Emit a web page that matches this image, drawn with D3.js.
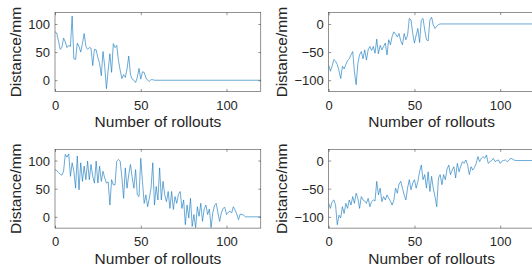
<!DOCTYPE html>
<meta charset="utf-8">
<style>
body { margin: 0; background: #fff; }
text { font-family: "Liberation Sans", Arial, sans-serif; fill: #262626; }
.tick text { font-size: 13px; }
.label { font-size: 15.5px; }
.box { fill: none; stroke: #262626; stroke-width: 0.5px; }
.trace { fill: none; stroke: #1a7cc0; stroke-width: 0.65px; }
</style>
<body>
<script src="https://d3js.org/d3.v7.min.js"></script>
<script>

// distance per rollout (index = rollout number)
var topLeft = [86, 84, 70, 55, 58, 75, 68, 58, 62, 60,
  114, 38, 37, 66, 60, 50, 65, 83, 60, 55,
  58, 57, 26, 55, 54, 40, 30, 8, 51, 24,
  -15, 18, 47, 14, 65, 58, 62, 35, 18, 3,
  10, 5, 20, 43, 10, 2, 0, -4, 5, 21,
  2, 15, 14, 4, 0, -2, 1, 1, 0];

var topRight = [-73, -84, -75, -63, -66, -72, -83, -97, -75, -80,
  -72, -65, -62, -55, -49, -85, -108, -70, -55, -49,
  -62, -46, -64, -46, -40, -47, -40, -52, -27, -53,
  -38, -46, -40, -34, -55, -28, -37, -22, -14, -18,
  -23, -17, -30, -37, -17, -28, -20, 10, 7, -17,
  -34, -20, -8, -33, 7, 10, -11, -28, -30, 7,
  12, -2, -8, -4, -1, 0];

var bottomLeft = [84, 82, 79, 76, 74, 81, 111, 106, 112, 72,
  96, 81, 51, 108, 48, 96, 63, 90, 66, 99,
  66, 93, 72, 60, 99, 60, 90, 63, 81, 69,
  60, 62, 21, 66, 57, 57, 99, 102, 99, 70,
  33, 87, 51, 75, 93, 70, 51, 84, 39, 36,
  104, 63, 24, 39, 18, 33, 51, 96, 21, 54,
  30, 87, 30, 63, 39, 27, 45, 15, 45, 13,
  36, 24, 40, 45, 15, 30, -14, 21, -2, 33,
  -17, 4, -19, 18, 1, 24, -8, 14, 21, 4,
  14, -19, 7, 20, 24, 7, -8, 7, 15, 17,
  4, 8, 10, 7, 18, 12, 5, -5, 5, 4,
  3, 0];

var bottomRight = [-76, -85, -73, -70, -79, -114, -97, -102, -82, -94,
  -76, -85, -70, -79, -64, -76, -58, -67, -85, -64,
  -70, -72, -76, -67, -82, -73, -70, -72, -37, -61,
  -49, -73, -64, -70, -61, -67, -72, -79, -70, -49,
  -58, -42, -37, -49, -61, -70, -49, -34, -52, -40,
  -34, -49, -37, -20, -8, -34, -25, -49, -20, -55,
  -28, -50, -64, -82, -31, -25, -43, -25, -34, -15,
  -8, -25, -17, -11, -31, -5, -20, -10, -2, -5,
  1, -8, -25, -11, -17, -12, -5, 7, -2, 4,
  7, 4, 10, -5, -2, 0, 4, -2, 0, 1,
  -5, -1, 0, 1, -2, 0, 4, 3, 1, 0];

// the line stays at 0 up to the last rollout
var lastRollout = 120, settledValue = 0;

var xTicks = [0, 50, 100];
var posTicks = [0, 50, 100];
var negTicks = [-100, -50, 0];

var panels = [
  {values: topLeft, yDomain: [-20, 120], yTicks: posTicks, col: 0, row: 0},
  {values: topRight, yDomain: [-120, 20], yTicks: negTicks, col: 1, row: 0},
  {values: bottomLeft, yDomain: [-20, 120], yTicks: posTicks, col: 0, row: 1},
  {values: bottomRight, yDomain: [-120, 20], yTicks: negTicks, col: 1, row: 1}
];

// layout of the 2x2 grid
var colLeft = [55, 328.7], rowTop = [12.7, 149.3];
var width = 205.8, height = 78.8, tickLen = 2.5;

var svg = d3.select("body").append("svg")
  .attr("width", 532)
  .attr("height", 276);

panels.forEach(function(p, i) {
  var g = svg.append("g")
    .attr("transform", "translate(" + colLeft[p.col] + "," + rowTop[p.row] + ")");

  var x = d3.scaleLinear().domain([0, lastRollout]).range([0, width]);
  var y = d3.scaleLinear().domain(p.yDomain).range([height, 0]);

  var pts = p.values.map(function(v, k) { return [k, v]; });
  pts.push([lastRollout, settledValue]);

  g.append("clipPath").attr("id", "clip" + i)
    .append("rect").attr("width", width).attr("height", height);

  // inward ticks on all four sides, like a boxed matlab axes
  var bottom = g.append("g").attr("transform", "translate(0," + height + ")")
    .call(d3.axisBottom(x).tickValues(xTicks).tickSize(-tickLen).tickPadding(6));
  g.append("g")
    .call(d3.axisTop(x).tickValues(xTicks).tickSize(-tickLen).tickFormat(""));
  var left = g.append("g")
    .call(d3.axisLeft(y).tickValues(p.yTicks).tickSize(-tickLen).tickPadding(5)
      .tickFormat(d3.format("d")));
  g.append("g").attr("transform", "translate(" + width + ",0)")
    .call(d3.axisRight(y).tickValues(p.yTicks).tickSize(-tickLen).tickFormat(""));

  g.selectAll(".domain").remove();
  g.selectAll(".tick line").attr("stroke", "#262626").attr("stroke-width", 0.5);
  bottom.selectAll("text").attr("dy", "0.72em").attr("y", 9);
  left.selectAll("text").attr("x", -5).attr("dy", "0.35em");
  g.selectAll(".tick text").attr("fill", "#262626")
    .style("font-family", "'Liberation Sans', Arial, sans-serif").style("font-size", "13px");

  g.append("path")
    .datum(pts)
    .attr("class", "trace")
    .attr("clip-path", "url(#clip" + i + ")")
    .attr("d", d3.line().x(function(d) { return x(d[0]); }).y(function(d) { return y(d[1]); }));

  g.append("rect").attr("class", "box").attr("width", width).attr("height", height);

  g.append("text")
    .attr("class", "label")
    .attr("text-anchor", "middle")
    .attr("x", width / 2)
    .attr("y", height + 36)
    .text("Number of rollouts");

  var maxW = d3.max(left.selectAll("text").nodes(), function(n) { return n.getComputedTextLength(); });
  g.append("text")
    .attr("class", "label")
    .attr("text-anchor", "middle")
    .attr("transform", "translate(" + (-5 - maxW - 7) + "," + (height / 2) + ") rotate(-90)")
    .text("Distance/mm");
});

</script>
</body>
